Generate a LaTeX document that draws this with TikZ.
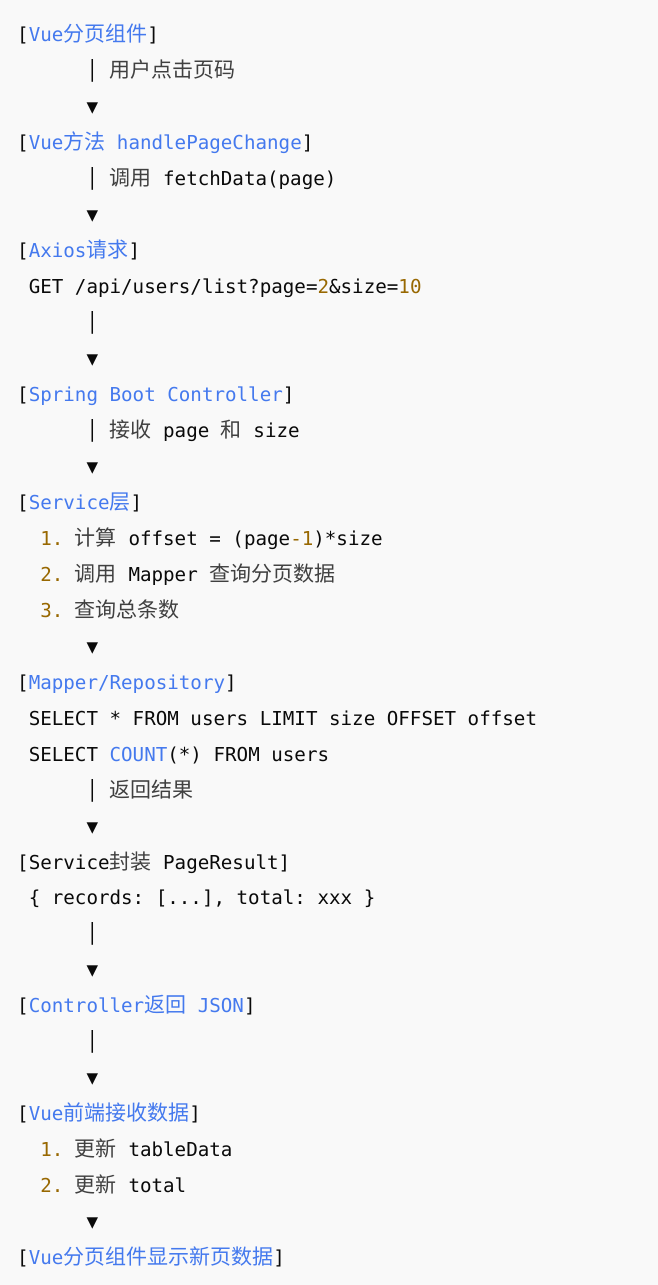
\documentclass[tikz,border=0pt]{standalone}
\usepackage{fontspec}
\usepackage{xcolor}
\usepackage{tikz}
\newfontfamily\codefont{DejaVu Sans Mono}
\newfontfamily\zhfont{Noto Sans CJK SC}
\definecolor{codeBg}{HTML}{F9F9F9}
\definecolor{codeText}{HTML}{0A0A0A}
\definecolor{zhText}{HTML}{404040}
\definecolor{titleBlue}{HTML}{4479EE}
\definecolor{numGold}{HTML}{986801}
\newcommand{\zhb}[1]{{\zhfont\fontsize{21pt}{36pt}\selectfont#1}}
\newcommand{\zh}[1]{\textcolor{zhText}{\zhb{#1}}}
\newcommand{\tb}[1]{\textcolor{titleBlue}{#1}}
\newcommand{\nm}[1]{\textcolor{numGold}{#1}}
\tikzset{codeline/.style={anchor=base west, inner sep=0pt, text=codeText,
    font=\codefont\fontsize{19.19pt}{36pt}\selectfont}}

\begin{document}
\frenchspacing
\begin{tikzpicture}[x=1pt,y=-1pt]
        \fill[codeBg] (0,0) rectangle (658,1285);
        \begin{scope}[shift={(17,41.7)}, x=11.55pt, y=-35.97pt]% one unit = one column / one line
        \node[codeline] (pager) at (0,0) {[\tb{Vue\zhb{分页组件}}]};
        \node[codeline] (clickNote) at (6,1) {│ \zh{用户点击页码}};
        \node[codeline] (down1) at (6,2) {▼};
        \node[codeline] (handler) at (0,3) {[\tb{Vue\zhb{方法} handlePageChange}]};
        \node[codeline] (callNote) at (6,4) {│ \zh{调用} fetchData(page)};
        \node[codeline] (down2) at (6,5) {▼};
        \node[codeline] (axios) at (0,6) {[\tb{Axios\zhb{请求}}]};
        \node[codeline] (getUrl) at (1,7) {GET /api/users/list?page=\nm{2}\&size=\nm{10}};
        \node[codeline] (bar3) at (6,8) {│};
        \node[codeline] (down3) at (6,9) {▼};
        \node[codeline] (controller) at (0,10) {[\tb{Spring Boot Controller}]};
        \node[codeline] (recvNote) at (6,11) {│ \zh{接收} page \zh{和} size};
        \node[codeline] (down4) at (6,12) {▼};
        \node[codeline] (service) at (0,13) {[\tb{Service\zhb{层}}]};
        \node[codeline] (svcStep1) at (2,14) {\nm{1.} \zh{计算} offset = (page\nm{-1})*size};
        \node[codeline] (svcStep2) at (2,15) {\nm{2.} \zh{调用} Mapper \zh{查询分页数据}};
        \node[codeline] (svcStep3) at (2,16) {\nm{3.} \zh{查询总条数}};
        \node[codeline] (down5) at (6,17) {▼};
        \node[codeline] (mapper) at (0,18) {[\tb{Mapper/Repository}]};
        \node[codeline] (sqlPage) at (1,19) {SELECT * FROM users LIMIT size OFFSET offset};
        \node[codeline] (sqlCount) at (1,20) {SELECT \tb{COUNT}(*) FROM users};
        \node[codeline] (backNote) at (6,21) {│ \zh{返回结果}};
        \node[codeline] (down6) at (6,22) {▼};
        \node[codeline] (wrap) at (0,23) {[Service\zh{封装} PageResult]};
        \node[codeline] (result) at (1,24) {\{ records: [...], total: xxx \}};
        \node[codeline] (bar7) at (6,25) {│};
        \node[codeline] (down7) at (6,26) {▼};
        \node[codeline] (json) at (0,27) {[\tb{Controller\zhb{返回} JSON}]};
        \node[codeline] (bar8) at (6,28) {│};
        \node[codeline] (down8) at (6,29) {▼};
        \node[codeline] (frontend) at (0,30) {[\tb{Vue\zhb{前端接收数据}}]};
        \node[codeline] (feStep1) at (2,31) {\nm{1.} \zh{更新} tableData};
        \node[codeline] (feStep2) at (2,32) {\nm{2.} \zh{更新} total};
        \node[codeline] (down9) at (6,33) {▼};
        \node[codeline] (refresh) at (0,34) {[\tb{Vue\zhb{分页组件显示新页数据}}]};
        \end{scope}
    \end{tikzpicture}
\end{document}
